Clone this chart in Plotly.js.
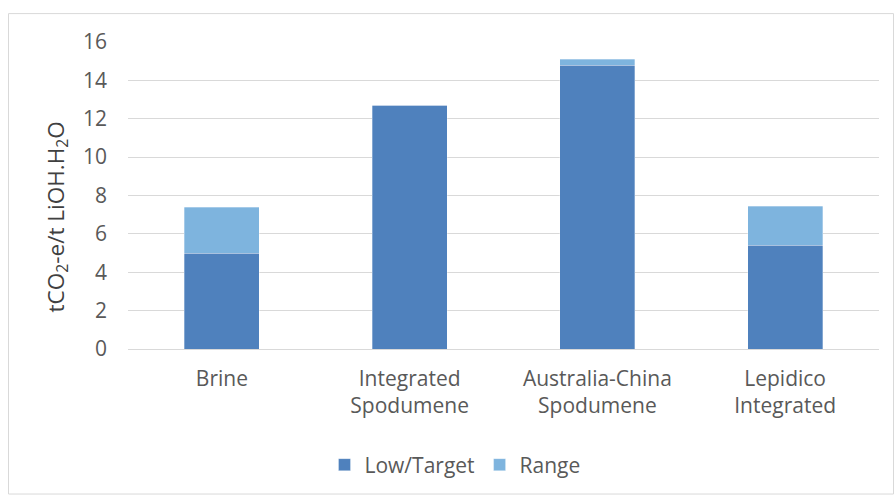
<!DOCTYPE html>
<html>
<head>
<meta charset="utf-8">
<script src="https://cdn.plot.ly/plotly-3.0.1.min.js"></script>
<style>
html,body{margin:0;padding:0;background:#fff;}
#chart{width:894px;height:496px;}
</style>
</head>
<body>
<div id="chart"></div>
<script>
const categories = ["Brine", "Integrated<br>Spodumene", "Australia-China<br>Spodumene", "Lepidico<br>Integrated"];
const lowTarget = [5.0, 12.7, 14.8, 5.4];
const range = [2.4, 0, 0.3, 2.05];
const yTicks = [0, 2, 4, 6, 8, 10, 12, 14, 16];
const yTitle = "tCO<sub>2</sub>-e/t LiOH.H<sub>2</sub>O";

const W = 894, H = 496;
const margin = {l: 128, r: 15, t: 42, b: 146};
const pw = W - margin.l - margin.r, ph = H - margin.t - margin.b;
const px = v => (v - margin.l) / pw;
const py = v => 1 - (v - margin.t) / ph;

const FAM = "'Open Sans', sans-serif";
const TXT = "#595959";

const traces = [
  {type: "bar", name: "Low/Target", x: categories, y: lowTarget,
   marker: {color: "#4F81BD", line: {color: "rgba(255,255,255,0.6)", width: 0.5}}},
  {type: "bar", name: "Range", x: categories, y: range,
   marker: {color: "#7EB4DE", line: {color: "rgba(255,255,255,0.6)", width: 0.5}}}
];

const layout = {
  width: W, height: H,
  margin: margin,
  barmode: "stack",
  bargap: 0.6,
  paper_bgcolor: "#fff", plot_bgcolor: "#fff",
  font: {family: FAM, size: 21, color: TXT},
  showlegend: true,
  legend: {orientation: "h", x: px(455), xanchor: "center", y: py(465), yanchor: "middle",
           font: {family: FAM, size: 21, color: TXT}, itemwidth: 30, traceorder: "normal"},
  xaxis: {type: "category", tickfont: {family: FAM, size: 21, color: TXT},
          showgrid: false, showline: false, ticks: "", zeroline: false,
          ticklabelstandoff: 15},
  yaxis: {range: [0, 16], tickvals: yTicks, ticktext: yTicks.map(String),
          tickfont: {family: FAM, size: 21, color: TXT},
          showgrid: true, gridcolor: "#D9D9D9", gridwidth: 1,
          zeroline: true, zerolinecolor: "#D9D9D9", zerolinewidth: 1,
          showline: false, ticks: "", automargin: false, ticklabelstandoff: 20},
  annotations: [
    {text: yTitle, textangle: -90, xref: "paper", yref: "paper",
     x: px(57), y: py(218), xanchor: "center", yanchor: "middle", showarrow: false,
     font: {family: FAM, size: 22.5, color: "#404040"}}
  ],
  shapes: [
    {type: "rect", xref: "paper", yref: "paper",
     x0: px(8.5), x1: px(893.5), y0: py(495.5), y1: py(13.5),
     line: {color: "#D9D9D9", width: 1}, fillcolor: "rgba(0,0,0,0)", layer: "below"}
  ]
};

Plotly.newPlot("chart", traces, layout, {displayModeBar: false, staticPlot: true});
</script>
</body>
</html>
